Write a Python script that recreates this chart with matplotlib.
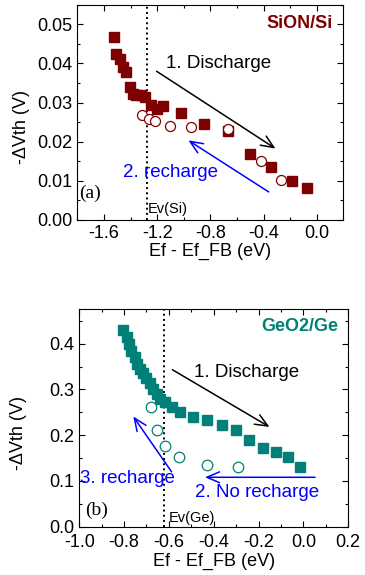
import matplotlib
matplotlib.use("Agg")
import matplotlib.pyplot as plt
from matplotlib.ticker import MultipleLocator

plt.rcParams['font.family'] = ['Liberation Sans', 'DejaVu Sans']
plt.rcParams['font.size'] = 13

# Panel (a): SiON/Si
SI_DIS_X = [-1.524, -1.507, -1.477, -1.456, -1.431, -1.406, -1.381, -1.356, -1.318,
            -1.293, -1.243, -1.204, -1.154, -1.020, -0.844, -0.668, -0.499, -0.340,
            -0.189, -0.076]
SI_DIS_Y = [0.0469, 0.0425, 0.0412, 0.0391, 0.0378, 0.0340, 0.0323, 0.0318, 0.0318,
            0.0314, 0.0293, 0.0284, 0.0290, 0.0272, 0.0244, 0.0227, 0.0168, 0.0135,
            0.0099, 0.0081]
SI_REC_X = [-1.313, -1.262, -1.217, -1.104, -0.945, -0.670, -0.418, -0.267]
SI_REC_Y = [0.0269, 0.0257, 0.0252, 0.0240, 0.0237, 0.0231, 0.0150, 0.0101]
SI_EV = -1.28

# Panel (b): GeO2/Ge
GE_DIS_X = [-0.804, -0.789, -0.777, -0.767, -0.752, -0.742, -0.730, -0.715, -0.700,
            -0.685, -0.670, -0.655, -0.640, -0.618, -0.588, -0.551, -0.494, -0.432,
            -0.365, -0.300, -0.241, -0.181, -0.122, -0.067, -0.017]
GE_DIS_Y = [0.429, 0.415, 0.400, 0.385, 0.371, 0.356, 0.345, 0.335, 0.324,
            0.313, 0.302, 0.291, 0.280, 0.273, 0.262, 0.251, 0.240, 0.233,
            0.222, 0.211, 0.189, 0.171, 0.164, 0.153, 0.131]
GE_REC_X = [-0.680, -0.655, -0.618, -0.554, -0.432, -0.290]
GE_REC_Y = [0.262, 0.211, 0.176, 0.153, 0.135, 0.131]
GE_EV = -0.62

RED = '#7f0000'
TEAL = '#008078'
BLUE = '#0000ff'
X_LABEL = 'Ef - Ef_FB (eV)'
Y_LABEL = '-ΔVth (V)'

fig = plt.figure(figsize=(3.65, 5.75), dpi=100)
ax1 = fig.add_axes([0.212, 0.618, 0.7285, 0.3735])
ax2 = fig.add_axes([0.217, 0.084, 0.737, 0.378])


def style(ax, xmaj, xmin, ymaj, ymin):
    ax.xaxis.set_major_locator(MultipleLocator(xmaj))
    ax.xaxis.set_minor_locator(MultipleLocator(xmin))
    ax.yaxis.set_major_locator(MultipleLocator(ymaj))
    ax.yaxis.set_minor_locator(MultipleLocator(ymin))
    ax.tick_params(which='both', direction='in', top=True, right=True, labelsize=13)
    ax.tick_params(which='major', length=4, width=0.8)
    ax.tick_params(which='minor', length=2.5, width=0.8)
    ax.set_xlabel(X_LABEL, fontsize=13, labelpad=1)
    ax.set_ylabel(Y_LABEL, fontsize=13)


def arrow(ax, tail, head, color):
    ax.annotate('', xy=head, xytext=tail,
                arrowprops=dict(arrowstyle='->,head_length=0.7,head_width=0.3',
                                color=color, lw=1.1, shrinkA=0, shrinkB=0))


# (a)
ax1.plot(SI_DIS_X, SI_DIS_Y, 's', color=RED, markersize=6.8, zorder=3)
ax1.plot(SI_REC_X, SI_REC_Y, 'o', mfc='white', mec=RED, mew=0.9, markersize=7.2, zorder=4)
ax1.axvline(SI_EV, color='black', ls=':', lw=1.4, zorder=2)
ax1.set_xlim(-1.8, 0.2)
ax1.set_ylim(0, 0.055)
style(ax1, 0.4, 0.2, 0.01, 0.005)
ax1.yaxis.set_major_formatter(matplotlib.ticker.FormatStrFormatter('%.2f'))
ax1.xaxis.set_major_formatter(matplotlib.ticker.FormatStrFormatter('%.1f'))
ax1.yaxis.set_label_coords(-0.178, 0.43)
arrow(ax1, (-1.204, 0.0380), (-0.310, 0.0182), 'black')
arrow(ax1, (-0.361, 0.0071), (-0.965, 0.0203), BLUE)
ax1.text(-1.13, 0.0399, '1. Discharge', fontsize=13.5, va='center')
ax1.text(-1.46, 0.0121, '2. recharge', fontsize=13.5, va='center', color=BLUE)
ax1.text(0.962, 0.913, 'SiON/Si', transform=ax1.transAxes, fontsize=13,
         fontweight='bold', color=RED, ha='right', va='center')
ax1.text(-1.79, 0.0068, '(a)', fontsize=14, family='Liberation Serif', va='center')
ax1.text(-1.27, 0.0027, 'Ev(Si)', fontsize=10.5, va='center')

# (b)
ax2.plot(GE_DIS_X, GE_DIS_Y, 's', color=TEAL, markersize=7.2, zorder=3)
ax2.plot(GE_REC_X, GE_REC_Y, 'o', mfc='white', mec=TEAL, mew=0.9, markersize=7.6, zorder=4)
ax2.axvline(GE_EV, color='black', ls=':', lw=1.4, zorder=2)
ax2.set_xlim(-1.0, 0.2)
ax2.set_ylim(0, 0.475)
style(ax2, 0.2, 0.1, 0.1, 0.05)
ax2.tick_params(axis='x', which='major', pad=5.5)
ax2.yaxis.set_major_formatter(matplotlib.ticker.FormatStrFormatter('%.1f'))
ax2.xaxis.set_major_formatter(matplotlib.ticker.FormatStrFormatter('%.1f'))
ax2.yaxis.set_label_coords(-0.194, 0.43)
arrow(ax2, (-0.584, 0.343), (-0.151, 0.218), 'black')
arrow(ax2, (0.052, 0.108), (-0.439, 0.108), BLUE)
arrow(ax2, (-0.588, 0.120), (-0.759, 0.241), BLUE)
ax2.text(-0.49, 0.338, '1. Discharge', fontsize=13.5, va='center')
ax2.text(-0.998, 0.105, '3. recharge', fontsize=13.5, va='center', color=BLUE)
ax2.text(-0.484, 0.074, '2. No recharge', fontsize=13.5, va='center', color=BLUE)
ax2.text(0.964, 0.92, 'GeO2/Ge', transform=ax2.transAxes, fontsize=13,
         fontweight='bold', color=TEAL, ha='right', va='center')
ax2.text(-0.975, 0.035, '(b)', fontsize=14, family='Liberation Serif', va='center')
ax2.text(-0.60, 0.018, 'Ev(Ge)', fontsize=10.5, va='center')

fig.savefig('out.png', dpi=100)
